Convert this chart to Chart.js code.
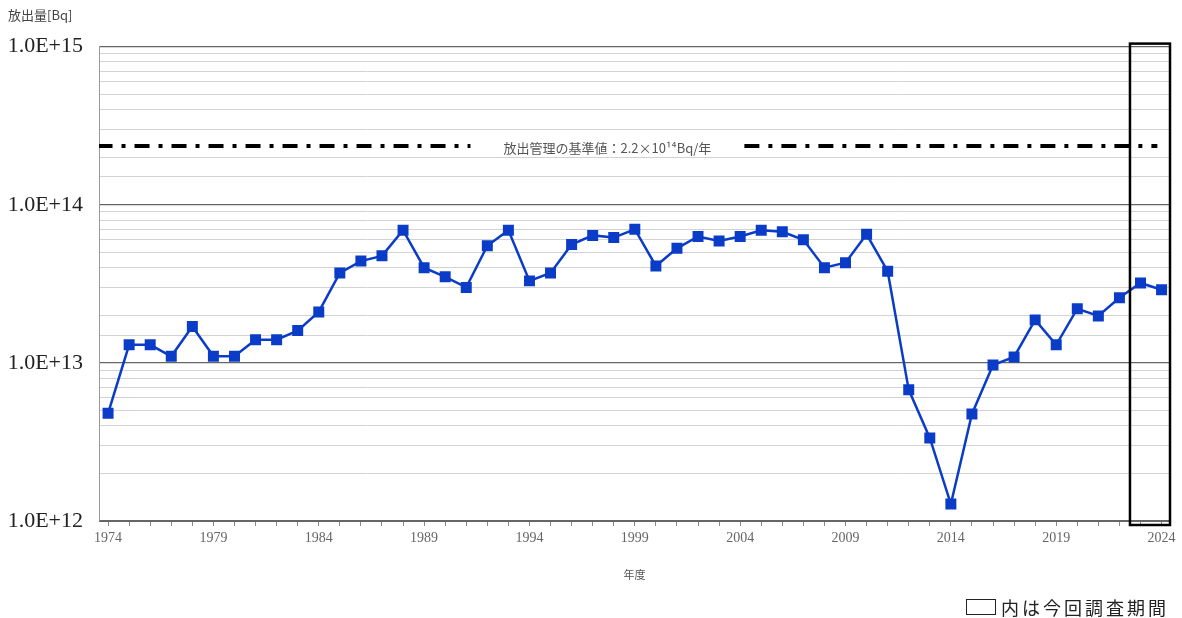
<!DOCTYPE html>
<html>
<head>
<meta charset="utf-8">
<script src="https://cdn.jsdelivr.net/npm/chart.js@4.4.1/dist/chart.umd.min.js"></script>
<style>
  body { margin: 0; background: #fff; }
  .chart-wrapper { position: relative; width: 1182px; height: 618px; }
  .note { position: absolute; left: 966px; top: 594px; font: 18px "Noto Sans CJK JP", sans-serif; color: #222; letter-spacing: 3px; display: flex; align-items: center; }
  .note .box { width: 28px; height: 14px; border: 1.5px solid #222; margin-right: 5px; }
</style>
</head>
<body>
<div class="chart-wrapper">
  <canvas id="chart" width="1182" height="618"></canvas>
  <div class="note"><span class="box"></span>内は今回調査期間</div>
</div>
<script>
const years = [
  1974, 1975, 1976, 1977, 1978, 1979, 1980, 1981, 1982, 1983,
  1984, 1985, 1986, 1987, 1988, 1989, 1990, 1991, 1992, 1993,
  1994, 1995, 1996, 1997, 1998, 1999, 2000, 2001, 2002, 2003,
  2004, 2005, 2006, 2007, 2008, 2009, 2010, 2011, 2012, 2013,
  2014, 2015, 2016, 2017, 2018, 2019, 2020, 2021, 2022, 2023, 2024
];
// 放出量 [Bq]
const releases = [
  4.8e12, 1.3e13, 1.3e13, 1.1e13, 1.7e13, 1.1e13, 1.1e13, 1.4e13, 1.4e13, 1.6e13,
  2.1e13, 3.7e13, 4.4e13, 4.75e13, 6.9e13, 4.0e13, 3.5e13, 3.0e13, 5.5e13, 6.9e13,
  3.3e13, 3.7e13, 5.6e13, 6.4e13, 6.2e13, 7.0e13, 4.1e13, 5.3e13, 6.3e13, 5.9e13,
  6.3e13, 6.9e13, 6.75e13, 6.0e13, 4.0e13, 4.3e13, 6.5e13, 3.8e13, 6.75e12, 3.35e12,
  1.28e12, 4.75e12, 9.7e12, 1.09e13, 1.87e13, 1.3e13, 2.2e13, 1.98e13, 2.58e13, 3.2e13, 2.9e13
];
const limitValue = 2.35e14;
const limitLabel = "放出管理の基準値：2.2×10¹⁴Bq/年";
const limitSegments = [1973.5, 1991.2, 2004.2, 2023.8];
const surveyYears = [2023, 2024];
const tickYears = years.filter((y) => (y - 1974) % 5 === 0);

const limitData = [
  { x: limitSegments[0], y: limitValue },
  { x: limitSegments[1], y: limitValue },
  { x: (limitSegments[1] + limitSegments[2]) / 2, y: null },
  { x: limitSegments[2], y: limitValue },
  { x: limitSegments[3], y: limitValue },
];

const extras = {
  id: "extras",
  afterDatasetsDraw(chart) {
    const { ctx, chartArea, scales } = chart;
    // 基準値ラベル
    const lx = scales.x.getPixelForValue((limitSegments[1] + limitSegments[2]) / 2);
    const ly = scales.y.getPixelForValue(limitValue);
    ctx.save();
    ctx.fillStyle = "#555";
    ctx.font = '13px "Noto Sans CJK JP", sans-serif';
    ctx.textAlign = "center";
    ctx.textBaseline = "middle";
    ctx.fillText(limitLabel, lx, ly + 2);
    // 今回調査期間
    const x1 = scales.x.getPixelForValue(surveyYears[0] - 0.5);
    const x2 = chartArea.right;
    ctx.strokeStyle = "#000";
    ctx.lineWidth = 2.5;
    ctx.strokeRect(x1, chartArea.top - 3, x2 - x1, chartArea.bottom - chartArea.top + 7);
    ctx.restore();
  },
};

const ctx = document.getElementById("chart");

new Chart(ctx, {
  type: "line",
  data: {
    datasets: [
      {
        label: "放出量",
        data: years.map((y, i) => ({ x: y, y: releases[i] })),
        borderColor: "#0a3cc8",
        backgroundColor: "#0a3cc8",
        borderWidth: 2.5,
        pointStyle: "rect",
        pointRadius: 6,
        tension: 0,
      },
      {
        label: "基準値",
        data: limitData,
        borderColor: "#000",
        borderWidth: 4,
        borderDash: [15, 9, 4, 9],
        pointRadius: 0,
        spanGaps: false,
      },
    ],
  },
  options: {
    responsive: false,
    animation: false,
    layout: { padding: { left: 8, right: 12, top: 0, bottom: 27 } },
    plugins: {
      legend: { display: false },
      tooltip: { enabled: false },
      title: {
        display: true,
        text: "放出量[Bq]",
        align: "start",
        color: "#444",
        font: { family: '"Noto Sans CJK JP", sans-serif', size: 13, weight: "normal" },
        padding: { top: 7, bottom: 24 },
      },
    },
    scales: {
      x: {
        type: "linear",
        min: 1973.57,
        max: 2024.4,
        afterBuildTicks: (scale) => {
          scale.ticks = years.map((y) => ({ value: y }));
        },
        afterFit: (scale) => { scale.height = 70; },
        ticks: {
          autoSkip: false,
          maxRotation: 0,
          padding: 4,
          color: "#666",
          font: { family: '"Liberation Serif", serif', size: 14 },
          callback: (v) => (tickYears.includes(v) ? String(v) : ""),
        },
        grid: { drawOnChartArea: false, tickLength: 5, color: "#888" },
        border: { color: "#666" },
        title: {
          display: true,
          text: "年度",
          color: "#555",
          font: { family: '"Noto Sans CJK JP", sans-serif', size: 11 },
          padding: { top: 0, bottom: 10 },
        },
      },
      y: {
        type: "logarithmic",
        min: 1e12,
        max: 1e15,
        afterFit: (scale) => { scale.width = 91; },
        ticks: {
          autoSkip: false,
          padding: 16,
          color: "#222",
          font: { family: '"Liberation Serif", serif', size: 22 },
          callback: (v) => {
            const e = Math.log10(v);
            return Math.abs(e - Math.round(e)) < 1e-9 ? "1.0E+" + Math.round(e) : "";
          },
        },
        grid: {
          drawTicks: false,
          color: (c) => {
            const e = Math.log10(c.tick.value);
            return Math.abs(e - Math.round(e)) < 1e-9 ? "#666" : "#d2d2d2";
          },
          lineWidth: (c) => {
            const e = Math.log10(c.tick.value);
            return Math.abs(e - Math.round(e)) < 1e-9 ? 1.2 : 1;
          },
        },
        border: { color: "#999" },
      },
    },
  },
  plugins: [extras],
});
</script>
</body>
</html>
